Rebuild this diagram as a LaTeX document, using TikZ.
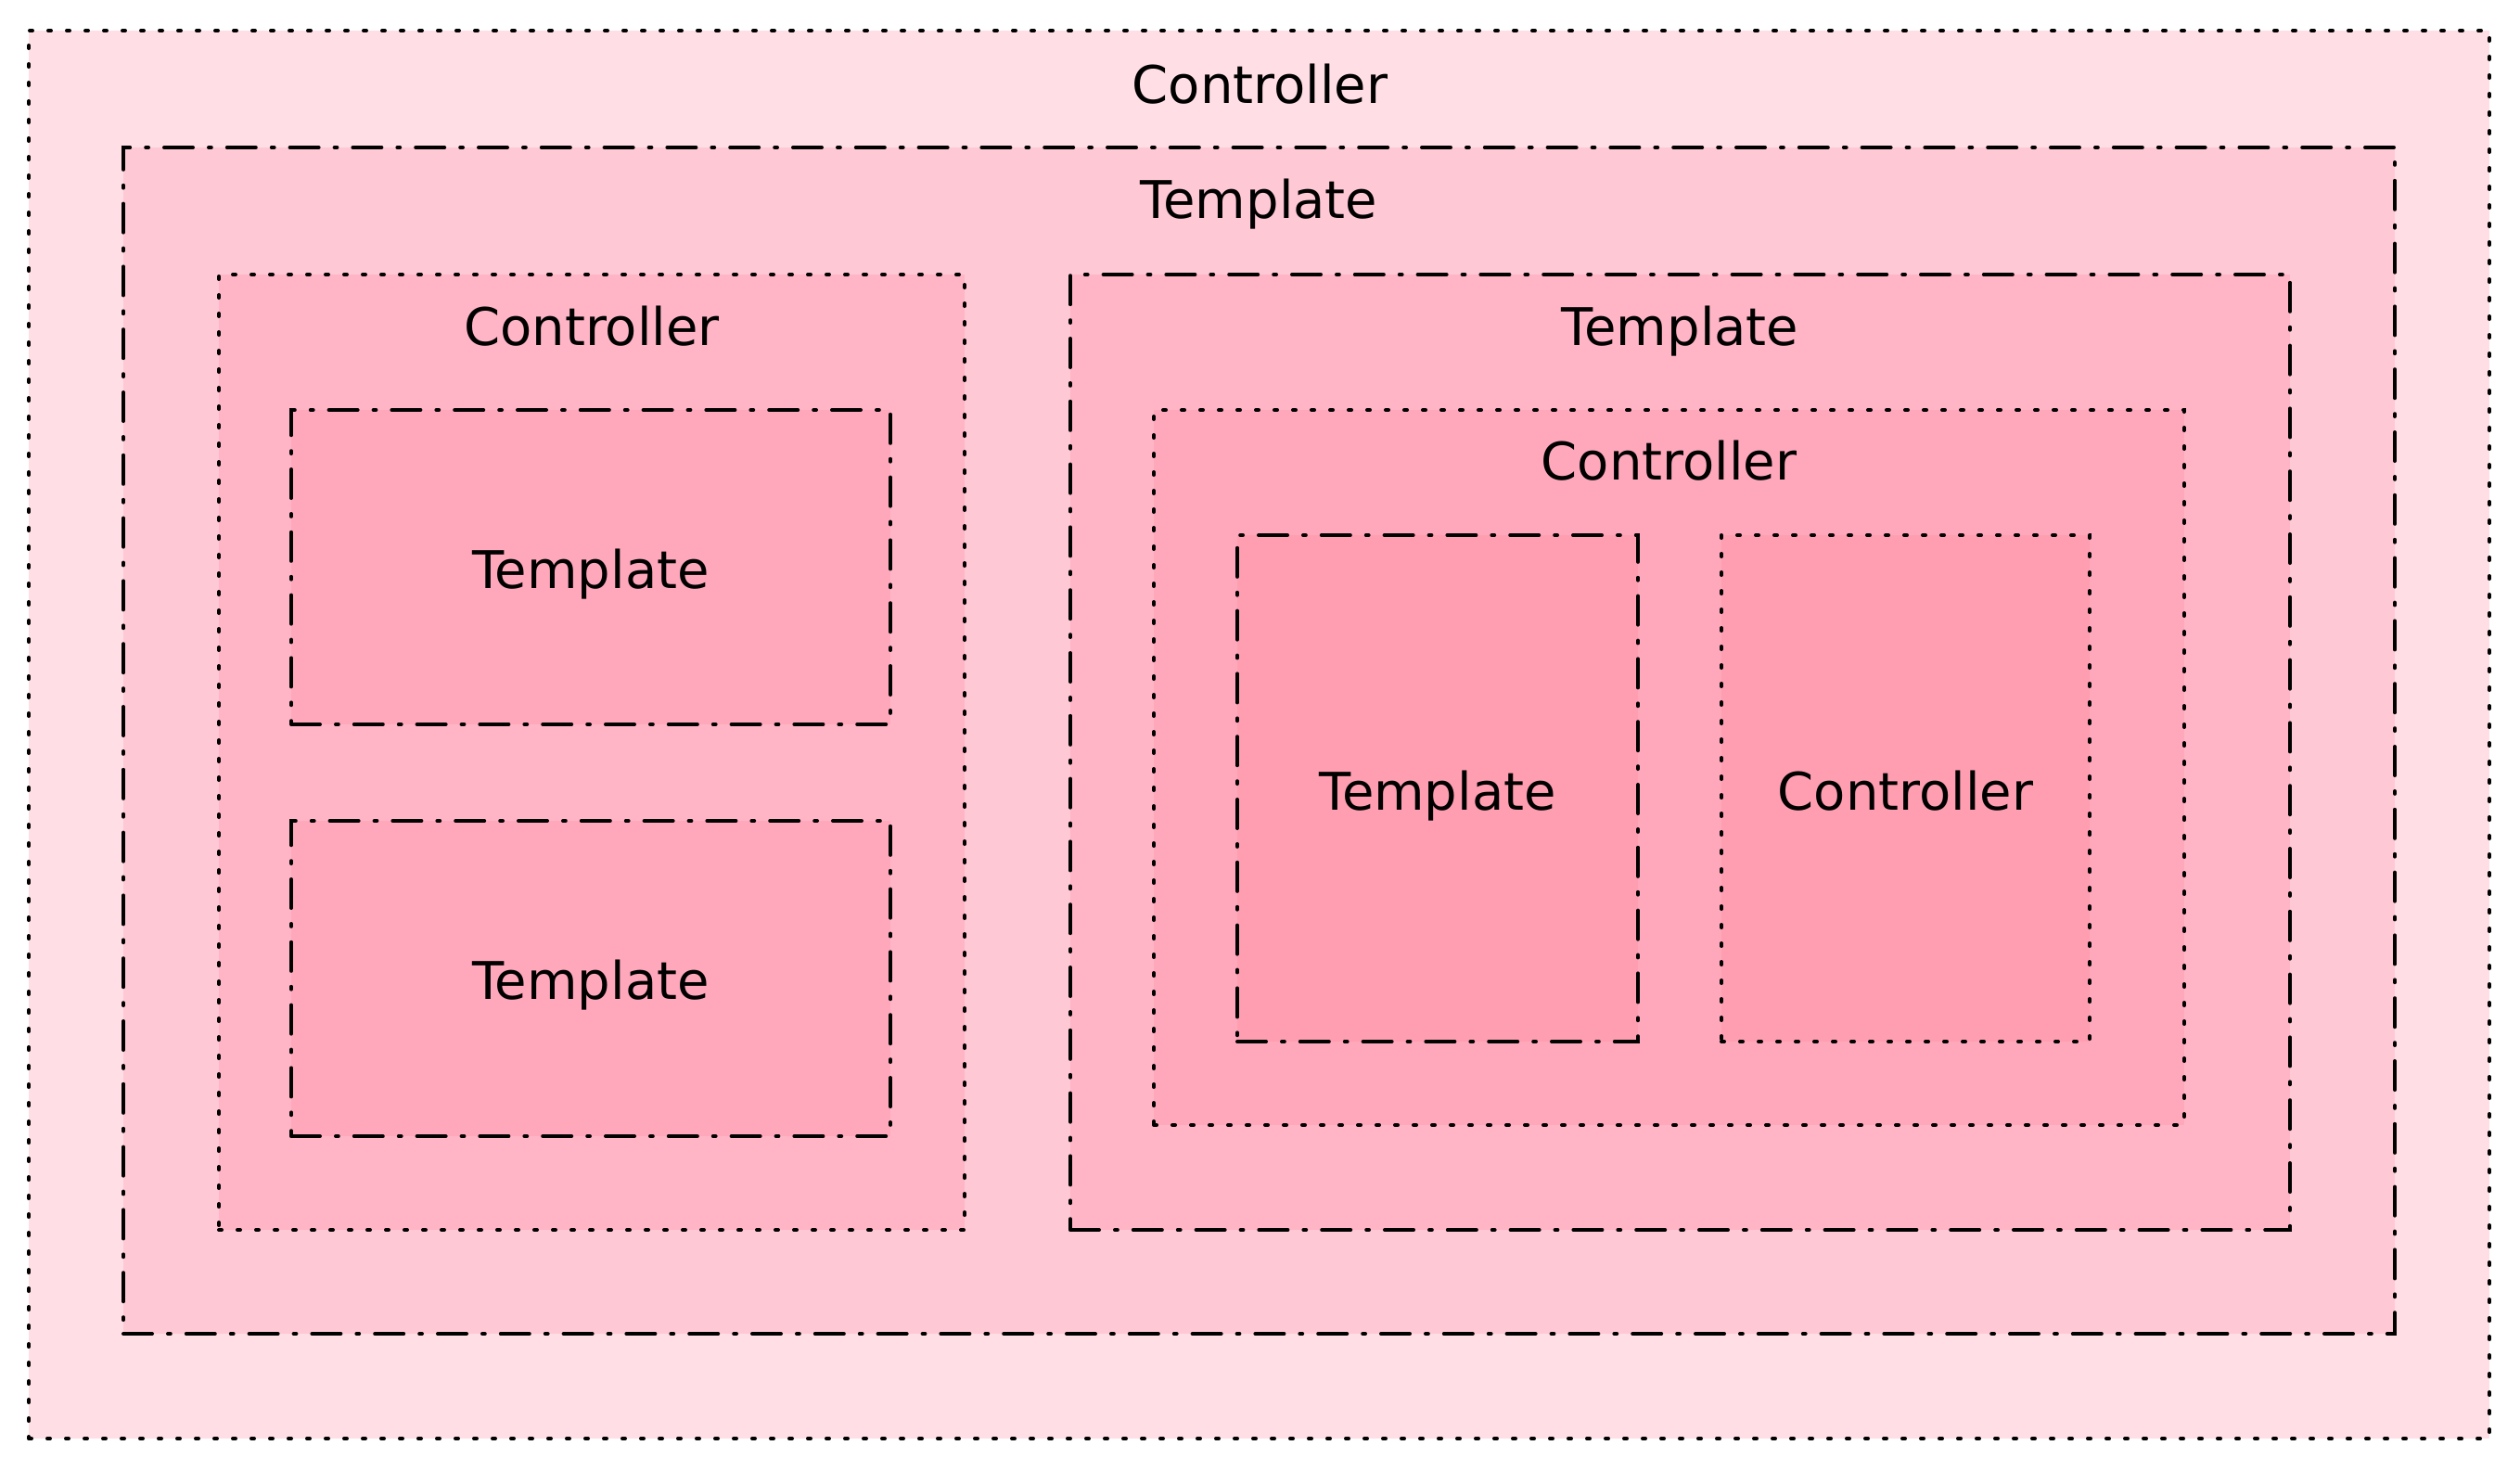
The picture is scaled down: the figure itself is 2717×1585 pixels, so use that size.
\documentclass[tikz,border=0pt]{standalone}
\usepackage{fontspec}
\setmainfont{DejaVu Sans}
\usetikzlibrary{fit}
\definecolor{cA}{HTML}{FFDFE5}
\definecolor{cB}{HTML}{FFC8D5}
\definecolor{cC}{HTML}{FFB5C5}
\definecolor{cD}{HTML}{FFA8BB}
\definecolor{cE}{HTML}{FF9EB1}
\tikzset{
  basebox/.style={draw=black, line width=2pt, line cap=round, inner sep=0pt, rectangle},
  ctrlbox/.style={basebox, dash pattern=on 1.5pt off 8.5pt},
  tmplbox/.style={basebox, dash pattern=on 15.5pt off 8.5pt on 1.4pt off 8.5pt},
  lbl/.style={anchor=base, inner sep=0pt, font=\fontsize{28pt}{34pt}\selectfont, text=black}
}
\begin{document}
\begin{tikzpicture}[x=0.5pt, y=-0.5pt]
\useasboundingbox[fill=white] (0,0) rectangle (2717,1585);
% level 0
\node[ctrlbox, fill=cA, fit={(31,33) (2684,1551)}] (c0) {};
\node[lbl] (lc0) at (1358.5,111) {Controller};
% level 1
\node[tmplbox, fill=cB, fit={(133,159) (2582,1438)}] (t1) {};
\node[lbl] (lt1) at (1357.5,235) {Template};
% level 2
\node[ctrlbox, fill=cC, fit={(236,296) (1040,1326)}] (c2) {};
\node[lbl] (lc2) at (638,372) {Controller};
\node[tmplbox, fill=cC, fit={(1154,296) (2469,1326)}] (t2) {};
\node[lbl] (lt2) at (1811.5,372) {Template};
% level 3 left
\node[tmplbox, fill=cD, fit={(314,442) (960,781)}] (t3a) {};
\node[lbl] (lt3a) at (637,634) {Template};
\node[tmplbox, fill=cD, fit={(314,885) (960,1225)}] (t3b) {};
\node[lbl] (lt3b) at (637,1077) {Template};
% level 3 right
\node[ctrlbox, fill=cD, fit={(1244,442) (2355,1213)}] (c3) {};
\node[lbl] (lc3) at (1799.5,517) {Controller};
% level 4
\node[tmplbox, fill=cE, fit={(1334,577) (1766,1123)}] (t4) {};
\node[lbl] (lt4) at (1550,873) {Template};
\node[ctrlbox, fill=cE, fit={(1856,577) (2253,1123)}] (c4) {};
\node[lbl] (lc4) at (2054.5,873) {Controller};
\end{tikzpicture}
\end{document}
